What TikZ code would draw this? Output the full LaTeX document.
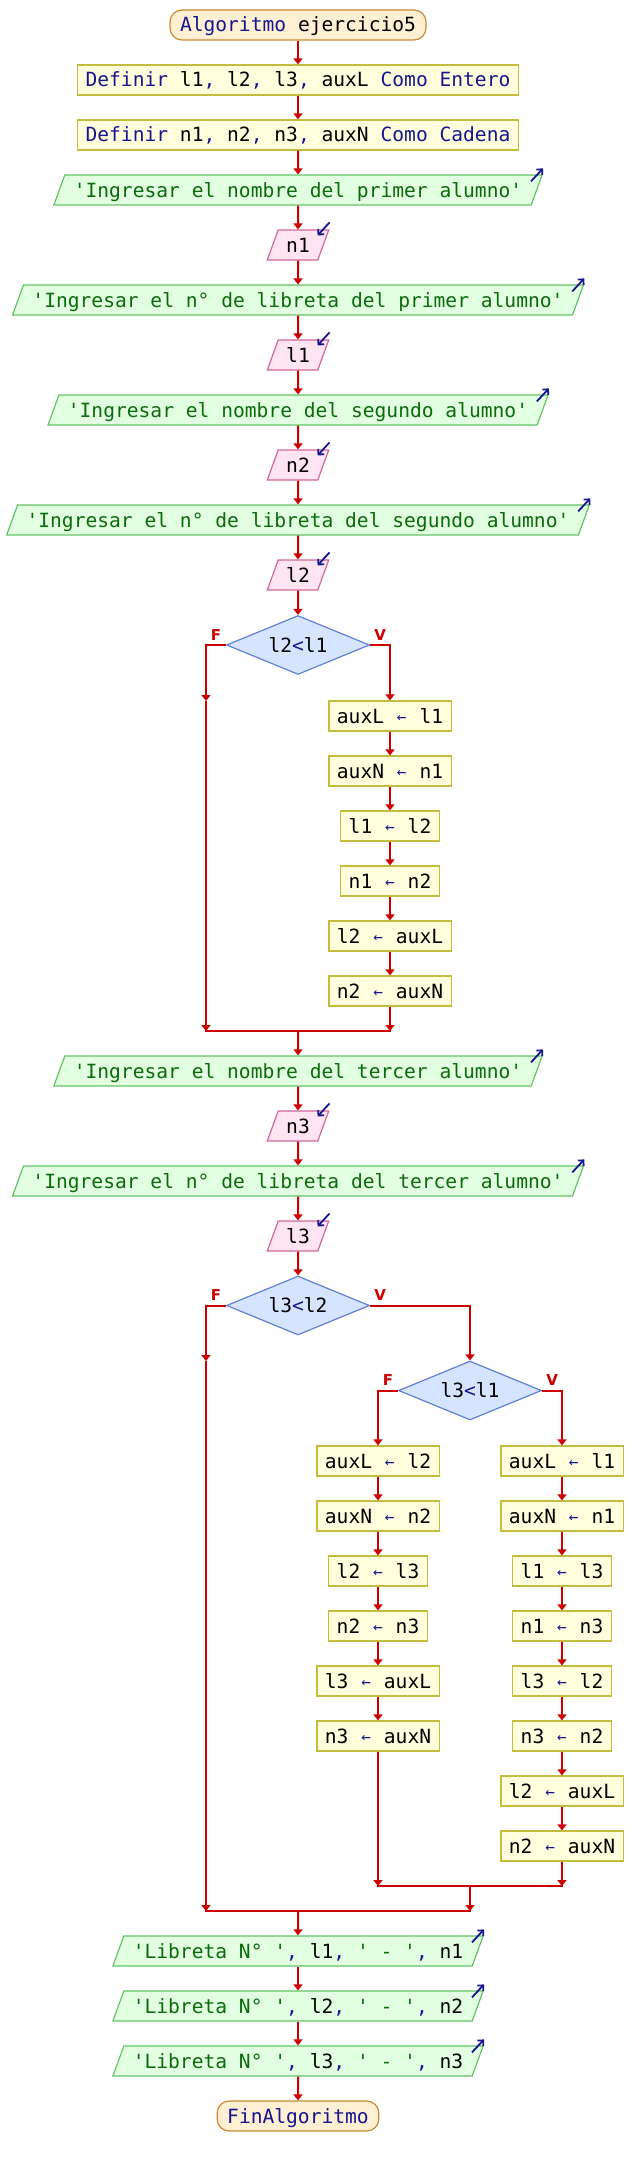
\documentclass[tikz,border=0pt]{standalone}
\usepackage{fontspec}
\setmonofont{DejaVu Sans Mono}
\newfontfamily\labfont{DejaVu Sans}
\usetikzlibrary{arrows.meta,shapes.geometric}

\definecolor{flowred}{HTML}{CC0000}
\definecolor{kwblue}{HTML}{16168E}
\definecolor{strgreen}{HTML}{0B6B0B}
\definecolor{termfill}{HTML}{FFF0D4}
\definecolor{termline}{HTML}{C88A30}
\definecolor{procfill}{HTML}{FFFFDE}
\definecolor{procline}{HTML}{C4BC3C}
\definecolor{outfill}{HTML}{E2FFE2}
\definecolor{outline}{HTML}{66C266}
\definecolor{infill}{HTML}{FFE4F1}
\definecolor{inline}{HTML}{D0689A}
\definecolor{condfill}{HTML}{D6E4FF}
\definecolor{condline}{HTML}{6080DA}

\newcommand{\pkw}[1]{\textcolor{kwblue}{#1}}
\newcommand{\pstr}[1]{\textcolor{strgreen}{#1}}
\newcommand{\asig}{\makebox[11.8pt]{\raisebox{1pt}{\textcolor{kwblue}{\fontsize{16pt}{16pt}\selectfont ←}}}}

\tikzset{
  base/.style={font=\ttfamily\fontsize{19.6pt}{23pt}\selectfont, text height=17pt, text depth=3pt,
    inner xsep=8pt, inner ysep=5pt, line width=1.2pt},
  term/.style={base, draw=termline, fill=termfill, rounded corners=12pt, inner xsep=10pt},
  proc/.style={base, draw=procline, fill=procfill},
  outp/.style={base, trapezium, trapezium left angle=70, trapezium right angle=110,
    draw=outline, fill=outfill, inner xsep=9pt},
  inp/.style={base, trapezium, trapezium left angle=70, trapezium right angle=110,
    draw=inline, fill=infill},
  cond/.style={base, diamond, aspect=2.4, inner sep=0pt, minimum width=143pt,
    minimum height=59pt, draw=condline, fill=condfill},
  flow/.style={draw=flowred, line width=2pt, -{Triangle[width=9pt,length=6pt]}},
  flowline/.style={draw=flowred, line width=2pt, line cap=rect},
  ioarr/.style={draw=kwblue, line width=1.8pt, -{Straight Barb[length=4pt,width=8pt]}},
  brlab/.style={font=\labfont\bfseries\fontsize{15pt}{17pt}\selectfont, text=flowred, inner sep=0pt}
}

\begin{document}
\begin{tikzpicture}[x=1pt,y=1pt]
\useasboundingbox (0,0) rectangle (632,-2165);

% start and definitions
\node[term] (start) at (298,-25) {\pkw{Algoritmo} ejercicio5};
\node[proc] (def1) at (298,-80) {\pkw{Definir} l1\pkw{,} l2\pkw{,} l3\pkw{,} auxL \pkw{Como Entero}};
\node[proc] (def2) at (298,-135) {\pkw{Definir} n1\pkw{,} n2\pkw{,} n3\pkw{,} auxN \pkw{Como Cadena}};

% reading the first two students
\node[outp] (o1) at (298,-190) {\pstr{'Ingresar el nombre del primer alumno'}};
\node[inp] (in1) at (298,-245) {n1};
\node[outp] (o2) at (298,-300) {\pstr{'Ingresar el n° de libreta del primer alumno'}};
\node[inp] (in2) at (298,-355) {l1};
\node[outp] (o3) at (298,-410) {\pstr{'Ingresar el nombre del segundo alumno'}};
\node[inp] (in3) at (298,-465) {n2};
\node[outp] (o4) at (298,-520) {\pstr{'Ingresar el n° de libreta del segundo alumno'}};
\node[inp] (in4) at (298,-575) {l2};

% first comparison
\node[cond] (d1) at (298,-645) {l2\pkw{<}l1};
\node[brlab] (d1f) at ([shift={(-10,10)}]d1.west) {F};
\node[brlab] (d1v) at ([shift={(10,10)}]d1.east) {V};
\node[proc] (a1) at (390,-716) {auxL \asig{} l1};
\node[proc] (a2) at (390,-771) {auxN \asig{} n1};
\node[proc] (a3) at (390,-826) {l1 \asig{} l2};
\node[proc] (a4) at (390,-881) {n1 \asig{} n2};
\node[proc] (a5) at (390,-936) {l2 \asig{} auxL};
\node[proc] (a6) at (390,-991) {n2 \asig{} auxN};
\coordinate (f1) at (206,-701);
\coordinate (m1l) at (206,-1031);
\coordinate (m1r) at (390,-1031);
\coordinate (m1) at (298,-1031);

% third student
\node[outp] (o5) at (298,-1071) {\pstr{'Ingresar el nombre del tercer alumno'}};
\node[inp] (in5) at (298,-1126) {n3};
\node[outp] (o6) at (298,-1181) {\pstr{'Ingresar el n° de libreta del tercer alumno'}};
\node[inp] (in6) at (298,-1236) {l3};

% nested comparison
\node[cond] (d2) at (298,-1305.5) {l3\pkw{<}l2};
\node[brlab] (d2f) at ([shift={(-10,10)}]d2.west) {F};
\node[brlab] (d2v) at ([shift={(10,10)}]d2.east) {V};
\node[cond] (d3) at (470,-1390.5) {l3\pkw{<}l1};
\node[brlab] (d3f) at ([shift={(-10,10)}]d3.west) {F};
\node[brlab] (d3v) at ([shift={(10,10)}]d3.east) {V};
\coordinate (f2) at (206,-1361);

\node[proc] (b1) at (378,-1461) {auxL \asig{} l2};
\node[proc] (b2) at (378,-1516) {auxN \asig{} n2};
\node[proc] (b3) at (378,-1571) {l2 \asig{} l3};
\node[proc] (b4) at (378,-1626) {n2 \asig{} n3};
\node[proc] (b5) at (378,-1681) {l3 \asig{} auxL};
\node[proc] (b6) at (378,-1736) {n3 \asig{} auxN};

\node[proc] (c1) at (562,-1461) {auxL \asig{} l1};
\node[proc] (c2) at (562,-1516) {auxN \asig{} n1};
\node[proc] (c3) at (562,-1571) {l1 \asig{} l3};
\node[proc] (c4) at (562,-1626) {n1 \asig{} n3};
\node[proc] (c5) at (562,-1681) {l3 \asig{} l2};
\node[proc] (c6) at (562,-1736) {n3 \asig{} n2};
\node[proc] (c7) at (562,-1791) {l2 \asig{} auxL};
\node[proc] (c8) at (562,-1846) {n2 \asig{} auxN};

\coordinate (m3l) at (378,-1886);
\coordinate (m3r) at (562,-1886);
\coordinate (m3) at (470,-1886);
\coordinate (m2l) at (206,-1911);
\coordinate (m2r) at (470,-1911);
\coordinate (m2) at (298,-1911);

% output and end
\node[outp] (o7) at (298,-1951) {\pstr{'Libreta N° '}\pkw{,} l1\pkw{,} \pstr{' - '}\pkw{,} n1};
\node[outp] (o8) at (298,-2006) {\pstr{'Libreta N° '}\pkw{,} l2\pkw{,} \pstr{' - '}\pkw{,} n2};
\node[outp] (o9) at (298,-2061) {\pstr{'Libreta N° '}\pkw{,} l3\pkw{,} \pstr{' - '}\pkw{,} n3};
\node[term] (end) at (298,-2116) {\pkw{FinAlgoritmo}};

% little io arrows
\foreach \o in {o1,o2,o3,o4,o5,o6,o7,o8,o9}
  \draw[ioarr] ([shift={(-12,-7)}]\o.top right corner) -- ++(12,13);
\foreach \i in {in1,in2,in3,in4,in5,in6}
  \draw[ioarr] ([shift={(0,7)}]\i.top right corner) -- ++(-12,-13);

% main flow
\draw[flow] (start.south) -- (def1.north);
\draw[flow] (def1.south) -- (def2.north);
\draw[flow] (def2.south) -- (o1.north);
\draw[flow] (o1.south) -- (in1.north);
\draw[flow] (in1.south) -- (o2.north);
\draw[flow] (o2.south) -- (in2.north);
\draw[flow] (in2.south) -- (o3.north);
\draw[flow] (o3.south) -- (in3.north);
\draw[flow] (in3.south) -- (o4.north);
\draw[flow] (o4.south) -- (in4.north);
\draw[flow] (in4.south) -- (d1.north);

% first if
\draw[flow] (d1.west) -| (f1);
\draw[flow] (f1) -- (m1l);
\draw[flow] (d1.east) -| (a1.north);
\draw[flow] (a1.south) -- (a2.north);
\draw[flow] (a2.south) -- (a3.north);
\draw[flow] (a3.south) -- (a4.north);
\draw[flow] (a4.south) -- (a5.north);
\draw[flow] (a5.south) -- (a6.north);
\draw[flow] (a6.south) -- (m1r);
\draw[flowline] (m1l) -- (m1r);
\draw[flow] (m1) -- (o5.north);

\draw[flow] (o5.south) -- (in5.north);
\draw[flow] (in5.south) -- (o6.north);
\draw[flow] (o6.south) -- (in6.north);
\draw[flow] (in6.south) -- (d2.north);

% second if
\draw[flow] (d2.west) -| (f2);
\draw[flow] (f2) -- (m2l);
\draw[flow] (d2.east) -| (d3.north);
\draw[flow] (d3.west) -| (b1.north);
\draw[flow] (d3.east) -| (c1.north);
\draw[flow] (b1.south) -- (b2.north);
\draw[flow] (b2.south) -- (b3.north);
\draw[flow] (b3.south) -- (b4.north);
\draw[flow] (b4.south) -- (b5.north);
\draw[flow] (b5.south) -- (b6.north);
\draw[flow] (b6.south) -- (m3l);
\draw[flow] (c1.south) -- (c2.north);
\draw[flow] (c2.south) -- (c3.north);
\draw[flow] (c3.south) -- (c4.north);
\draw[flow] (c4.south) -- (c5.north);
\draw[flow] (c5.south) -- (c6.north);
\draw[flow] (c6.south) -- (c7.north);
\draw[flow] (c7.south) -- (c8.north);
\draw[flow] (c8.south) -- (m3r);
\draw[flowline] (m3l) -- (m3r);
\draw[flow] (m3) -- (m2r);
\draw[flowline] (m2l) -- (m2r);
\draw[flow] (m2) -- (o7.north);

\draw[flow] (o7.south) -- (o8.north);
\draw[flow] (o8.south) -- (o9.north);
\draw[flow] (o9.south) -- (end.north);

\end{tikzpicture}
\end{document}
